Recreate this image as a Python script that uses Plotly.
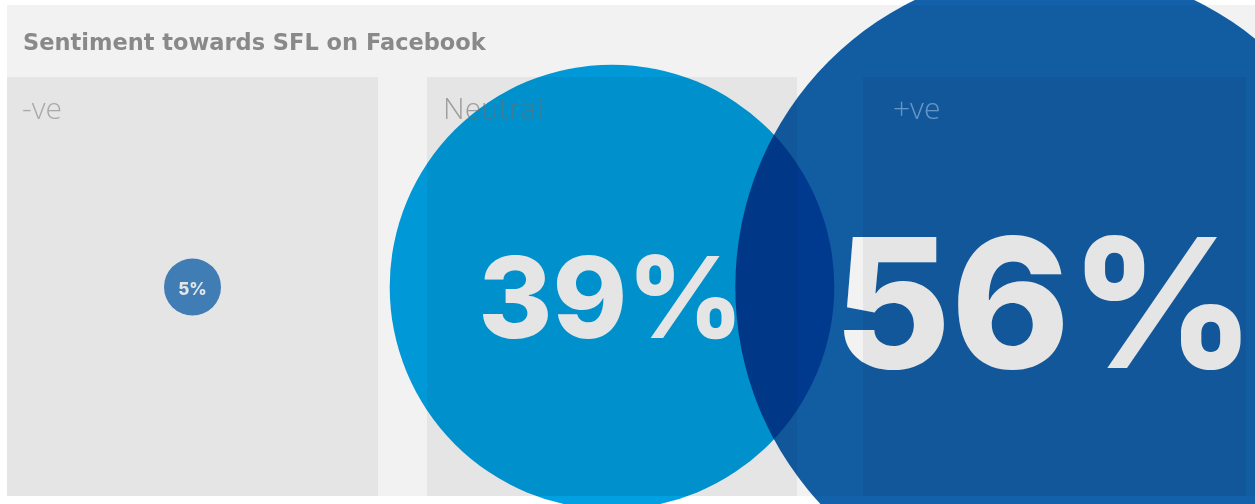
import plotly.graph_objects as go

# ---- data ----
categories = ["-ve", "Neutral", "+ve"]
values = [5, 39, 56]
title_text = "Sentiment towards SFL on Facebook"

# ---- layout / style constants (pixel space) ----
W, H = 1255, 504
PANEL_X0 = [7, 427, 863]
PANEL_X1 = [378, 797, 1246]
PANEL_Y0, PANEL_Y1 = 77, 496
CENTER_Y = 287
RADIUS_PER_PCT = 5.7
circle_colors = ["#478bc9", "#00a0e2", "#1361ab"]
value_font_sizes = [17, 113, 180]
TEXT_DROP = 0.2  # fraction of font size the value text sits below centre
TEXT_DX = [0, -1, -10]
label_colors = ["rgba(120,120,120,0.55)", "rgba(110,110,110,0.6)", "rgba(205,228,255,0.45)"]
label_x = [20, 441, 891]
VALUE_FONT = "Inter"

centers_x = [(a + b) / 2 for a, b in zip(PANEL_X0, PANEL_X1)]

fig = go.Figure()

# circles sized by value (diameter in px)
fig.add_trace(go.Scatter(
    x=centers_x, y=[CENTER_Y] * len(values),
    mode="markers",
    marker=dict(size=[2 * RADIUS_PER_PCT * v for v in values],
                sizemode="diameter", color=circle_colors,
                line=dict(width=0), opacity=1),
    hoverinfo="skip", cliponaxis=False,
))
# value labels
fig.add_trace(go.Scatter(
    x=[c + d for c, d in zip(centers_x, TEXT_DX)],
    y=[CENTER_Y + TEXT_DROP * s for s in value_font_sizes],
    mode="text",
    text=[f"{v}%" for v in values],
    textposition="middle center",
    textfont=dict(family=VALUE_FONT, size=value_font_sizes, color="#f2f2f2", weight=800),
    hoverinfo="skip", cliponaxis=False,
))

shapes = [dict(type="rect", xref="x", yref="y", x0=7, x1=W, y0=5, y1=496,
               fillcolor="#f2f2f2", line=dict(width=0), layer="below")]
for x0, x1 in zip(PANEL_X0, PANEL_X1):
    shapes.append(dict(type="rect", xref="x", yref="y", x0=x0, x1=x1,
                       y0=PANEL_Y0, y1=PANEL_Y1,
                       fillcolor="rgba(0,0,0,0.051)", line=dict(width=0), layer="above"))

annotations = [dict(text=title_text, xref="x", yref="y", x=21, y=42,
                    xanchor="left", yanchor="middle", showarrow=False,
                    font=dict(family="DejaVu Sans", size=22.5, color="#898989", weight=700))]
for cat, lx, lc in zip(categories, label_x, label_colors):
    annotations.append(dict(text=cat, xref="x", yref="y", x=lx, y=107,
                            xanchor="left", yanchor="middle", showarrow=False,
                            font=dict(family="Open Sans", size=30, color=lc, weight=300)))

fig.update_layout(
    width=W, height=H, margin=dict(l=0, r=0, t=0, b=0),
    paper_bgcolor="white", plot_bgcolor="white",
    xaxis=dict(range=[0, W], visible=False, fixedrange=True),
    yaxis=dict(range=[H, 0], visible=False, fixedrange=True),
    showlegend=False, shapes=shapes, annotations=annotations,
)

post = """
var gd = document.getElementById('{plot_id}');
gd.querySelectorAll('.scatterlayer path.point').forEach(function(p){ p.style.mixBlendMode = 'multiply'; });
"""
fig.write_html("out.html", post_script=post, config={"displayModeBar": False})
